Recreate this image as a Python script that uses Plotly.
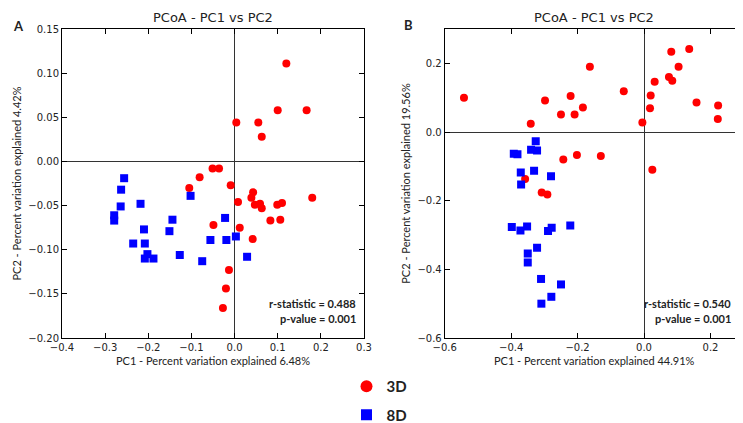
import plotly.graph_objects as go

# ---------------- Data: Panel A ----------------
a_3d_pc1 = [0.120, 0.100, 0.167, 0.004, 0.055, 0.063,
            -0.051, -0.036, -0.081, -0.105, -0.009, 0.008, 0.043, 0.039, 0.047, 0.059,
            0.063, 0.099, 0.110, 0.180, 0.083, 0.106, -0.049, 0.012, 0.042, -0.013,
            -0.020, -0.027]
a_3d_pc2 = [0.111, 0.058, 0.058, 0.044, 0.044, 0.028,
            -0.008, -0.008, -0.018, -0.030, -0.027, -0.046, -0.035, -0.041, -0.049, -0.048,
            -0.053, -0.049, -0.047, -0.041, -0.067, -0.066, -0.072, -0.075, -0.088, -0.123,
            -0.144, -0.166]
a_8d_pc1 = [-0.256, -0.263, -0.264, -0.279, -0.279, -0.218, -0.210, -0.235, -0.208, -0.202,
            -0.208, -0.188, -0.144, -0.151, -0.127, -0.102, -0.075, -0.056, -0.022, -0.019,
            0.003, 0.029]
a_8d_pc2 = [-0.019, -0.032, -0.051, -0.061, -0.067, -0.048, -0.077, -0.093, -0.093, -0.105,
            -0.110, -0.110, -0.066, -0.079, -0.106, -0.039, -0.113, -0.089, -0.064, -0.089,
            -0.085, -0.108]

# ---------------- Data: Panel B ----------------
b_3d_pc1 = [-0.542, -0.163, -0.061, -0.221, -0.298, -0.250, -0.209, -0.184, -0.341, -0.005,
            0.082, 0.136, 0.104, 0.075, 0.085, 0.032, 0.020, 0.018, 0.158, 0.223,
            0.222, -0.243, -0.202, -0.130, 0.025, -0.358, -0.308, -0.291]
b_3d_pc2 = [0.100, 0.190, 0.119, 0.105, 0.092, 0.051, 0.051, 0.071, 0.024, 0.028,
            0.234, 0.242, 0.190, 0.160, 0.149, 0.146, 0.106, 0.069, 0.086, 0.077,
            0.038, -0.080, -0.067, -0.070, -0.110, -0.137, -0.176, -0.182]
b_8d_pc1 = [-0.326, -0.392, -0.381, -0.340, -0.322, -0.371, -0.331, -0.280, -0.370, -0.398,
            -0.372, -0.352, -0.289, -0.278, -0.222, -0.322, -0.350, -0.350, -0.310, -0.250,
            -0.279, -0.309]
b_8d_pc2 = [-0.027, -0.063, -0.065, -0.052, -0.054, -0.118, -0.113, -0.129, -0.153, -0.277,
            -0.287, -0.275, -0.288, -0.279, -0.272, -0.337, -0.354, -0.380, -0.428, -0.444,
            -0.480, -0.500]

groups = ["3D", "8D"]
titles = ["PCoA - PC1 vs PC2", "PCoA - PC1 vs PC2"]
panel_labels = ["A", "B"]
x_titles = ["PC1 - Percent variation explained 6.48%", "PC1 - Percent variation explained 44.91%"]
y_titles = ["PC2 - Percent variation explained 4.42%", "PC2 - Percent variation explained 19.56%"]
r_stats = ["r-statistic = 0.488", "r-statistic = 0.540"]
p_vals = ["p-value = 0.001", "p-value = 0.001"]

RED = "#ff0000"
BLUE = "#0000ff"
W, H = 743, 423

fig = go.Figure()

def add_panel(xs3, ys3, xs8, ys8, xa, ya):
    fig.add_trace(go.Scatter(x=xs3, y=ys3, mode="markers", xaxis=xa, yaxis=ya,
                             marker=dict(symbol="circle", size=8, color=RED),
                             showlegend=False, name=groups[0]))
    fig.add_trace(go.Scatter(x=xs8, y=ys8, mode="markers", xaxis=xa, yaxis=ya,
                             marker=dict(symbol="square", size=8, color=BLUE),
                             showlegend=False, name=groups[1]))

add_panel(a_3d_pc1, a_3d_pc2, a_8d_pc1, a_8d_pc2, "x", "y")
add_panel(b_3d_pc1, b_3d_pc2, b_8d_pc1, b_8d_pc2, "x2", "y2")

# legend entries
fig.add_trace(go.Scatter(x=[None], y=[None], mode="markers", name=groups[0], legendgroup="g3",
                         marker=dict(symbol="circle", size=12, color=RED), showlegend=True))
fig.add_trace(go.Scatter(x=[None], y=[None], mode="markers", name=groups[1], legendgroup="g8",
                         marker=dict(symbol="square", size=11, color=BLUE), showlegend=True))

y_dom = [1 - 330 / H, 1 - 21 / H]
tick_font = dict(family="DejaVu Sans", size=10, color="#222")
title_font = dict(family="Lato", size=11, color="#222")

common = dict(showline=True, linecolor="black", linewidth=1, mirror="ticks",
              ticks="inside", ticklen=5, tickcolor="black", showgrid=False,
              zeroline=True, zerolinecolor="#333", zerolinewidth=1, tickfont=tick_font,
              automargin=False)

fig.update_layout(
    width=W, height=H,
    margin=dict(l=0, r=0, t=0, b=0),
    paper_bgcolor="white", plot_bgcolor="white",
    xaxis=dict(domain=[54 / W, 356 / W], range=[-0.4, 0.3], dtick=0.1, tick0=0,
               tickformat=".1f", anchor="y",
               title=dict(text=x_titles[0], font=title_font, standoff=5), **common),
    yaxis=dict(domain=y_dom, range=[-0.2, 0.15], dtick=0.05, tick0=0,
               tickformat=".2f", anchor="x",
               title=dict(text=y_titles[0], font=title_font, standoff=4), **common),
    xaxis2=dict(domain=[436.7 / W, 735.7 / W], range=[-0.6, 0.3], dtick=0.2, tick0=0,
                tickformat=".1f", anchor="y2",
                title=dict(text=x_titles[1], font=title_font, standoff=5), **common),
    yaxis2=dict(domain=y_dom, range=[-0.6, 0.3], dtick=0.2, tick0=0,
                tickformat=".1f", anchor="x2",
                title=dict(text=y_titles[1], font=title_font, standoff=4), **common),
    legend=dict(x=0.5, xanchor="center", y=1 - 362 / H, yanchor="top",
                tracegroupgap=6,
                font=dict(family="Lato", size=15, color="#222", weight="bold"),
                bgcolor="rgba(0,0,0,0)"),
    showlegend=True,
)

annotations = []
for i, (xr, yr) in enumerate([("x", "y"), ("x2", "y2")]):
    annotations.append(dict(text=titles[i], xref=f"{xr} domain", yref=f"{yr} domain",
                            x=0.5, y=1, xanchor="center", yanchor="bottom", yshift=2,
                            showarrow=False,
                            font=dict(family="DejaVu Sans", size=13, color="#222")))
    annotations.append(dict(text=f"<b>{r_stats[i]}</b>", xref=f"{xr} domain", yref=f"{yr} domain",
                            x=[0.98, 0.964][i], y=(330 - 295) / 309, xanchor="right", yanchor="middle",
                            showarrow=False,
                            font=dict(family="Lato", size=11, color="#222")))
    annotations.append(dict(text=f"<b>{p_vals[i]}</b>", xref=f"{xr} domain", yref=f"{yr} domain",
                            x=[0.98, 0.964][i], y=(330 - 310) / 309, xanchor="right", yanchor="middle",
                            showarrow=False,
                            font=dict(family="Lato", size=11, color="#222")))
annotations.append(dict(text="<b>A</b>", xref="paper", yref="paper", x=10 / W, y=1 - 18 / H,
                        xanchor="center", yanchor="middle", showarrow=False,
                        font=dict(family="Lato", size=13, color="#222")))
annotations.append(dict(text="<b>B</b>", xref="paper", yref="paper", x=400 / W, y=1 - 17 / H,
                        xanchor="center", yanchor="middle", showarrow=False,
                        font=dict(family="Lato", size=13, color="#222")))
fig.update_layout(annotations=annotations)

fig.write_html("out.html")
